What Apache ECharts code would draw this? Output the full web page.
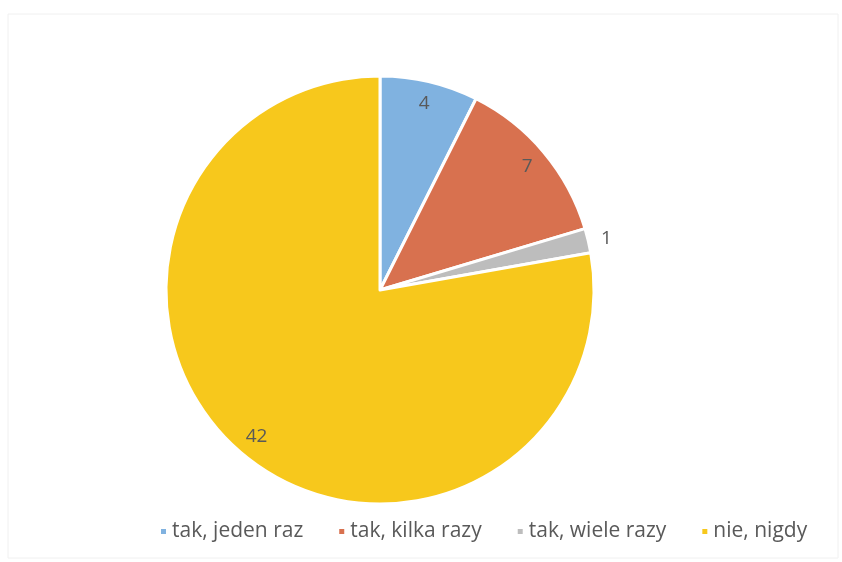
<!DOCTYPE html>
<html><head><meta charset="utf-8">
<script src="https://cdn.jsdelivr.net/npm/echarts@6/dist/echarts.min.js"></script>
<style>html,body{margin:0;padding:0;background:#fff}#c{width:842px;height:562px}</style>
</head><body><div id="c"></div>
<script>
const categories = ['tak, jeden raz', 'tak, kilka razy', 'tak, wiele razy', 'nie, nigdy'];
const values = [4, 7, 1, 42];
const colors = ['#80b2e0', '#d8714f', '#bdbdbd', '#f7c81c'];
const outsideLabelIndex = 2;

const chart = echarts.init(document.getElementById('c'));
const mainData = categories.map((n, i) => ({
  name: n, value: values[i],
  itemStyle: { color: colors[i] },
  label: { show: i === outsideLabelIndex }
}));
const ringData = categories.map((n, i) => ({
  name: n, value: values[i],
  label: { show: i !== outsideLabelIndex }
}));
chart.setOption({
  animation: false,
  graphic: [{ type: 'rect', shape: { x: 8, y: 14, width: 830, height: 544 }, style: { fill: 'none', stroke: '#f0f0f0', lineWidth: 1 }, silent: true }],
  legend: {
    data: categories,
    bottom: 15, left: 154,
    icon: 'rect', itemWidth: 7, itemHeight: 7, itemGap: 34,
    textStyle: { color: '#595959', fontSize: 21, fontFamily: 'Open Sans', padding: [0, 0, 0, 0] }
  },
  series: [{
    type: 'pie',
    center: [380, 290], radius: [0, 214],
    startAngle: 90, clockwise: true,
    itemStyle: { borderColor: '#fff', borderWidth: 3 },
    label: { position: 'outside', color: '#595959', fontSize: 19, fontFamily: 'Open Sans', formatter: '{c}' },
    labelLine: { show: false, length: 8, length2: 0 },
    emphasis: { disabled: true },
    data: mainData
  }, {
    type: 'pie', silent: true,
    center: [380, 290], radius: [164, 214],
    startAngle: 90, clockwise: true,
    itemStyle: { color: 'rgba(0,0,0,0)' },
    label: { position: 'inside', color: '#595959', fontSize: 19, fontFamily: 'Open Sans', formatter: '{c}' },
    labelLine: { show: false },
    emphasis: { disabled: true },
    data: ringData
  }]
});
</script></body></html>
